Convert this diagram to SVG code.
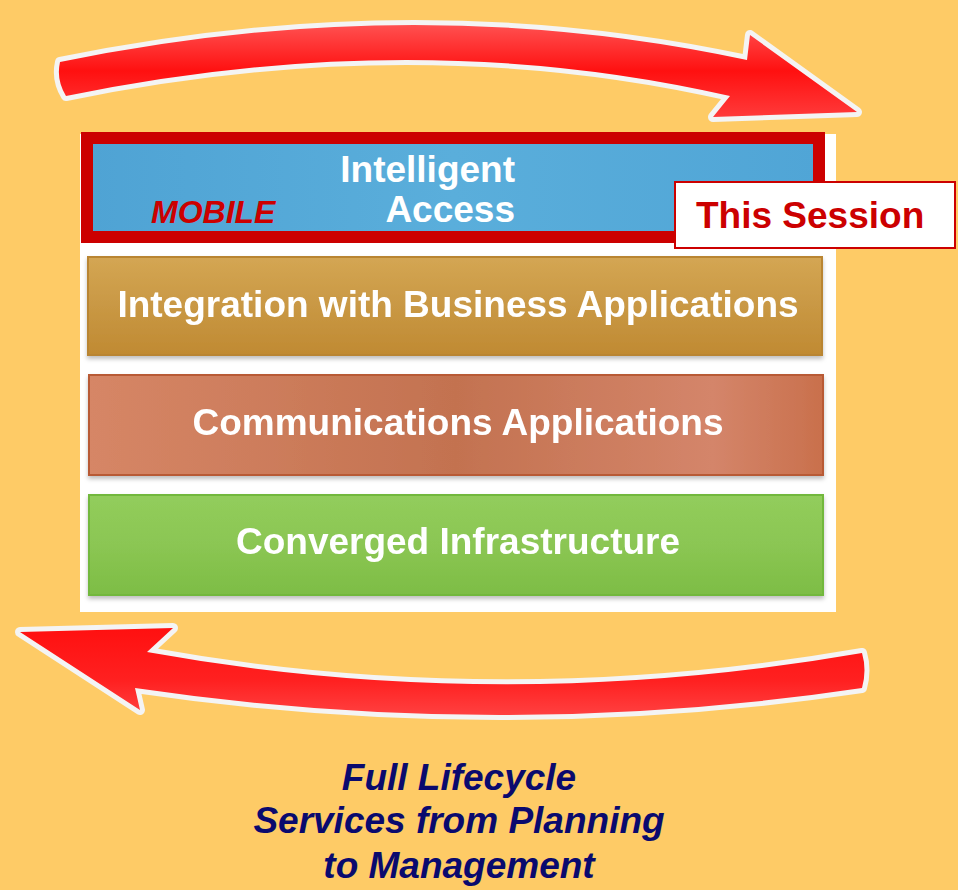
<svg xmlns="http://www.w3.org/2000/svg" width="958" height="890" viewBox="0 0 958 890">
<style>
.bar-text{font-family:"Liberation Sans",Arial,sans-serif;font-weight:bold;font-size:37px;fill:#ffffff;text-anchor:middle}
.foot{font-family:"Liberation Sans",Arial,sans-serif;font-weight:bold;font-style:italic;font-size:37px;fill:#0a0a6e;text-anchor:middle}
.halo{fill:none;stroke:#f4f4f4;stroke-linejoin:round}
</style>
<defs>
<linearGradient id="gBlue" x1="0" y1="0" x2="1" y2="0"><stop offset="0" stop-color="#4fa3d4"/><stop offset="0.5" stop-color="#5aaedb"/><stop offset="1" stop-color="#50a5d6"/></linearGradient>
<linearGradient id="gGold" x1="0" y1="0" x2="0" y2="1"><stop offset="0" stop-color="#d4a653"/><stop offset="0.5" stop-color="#c99844"/><stop offset="1" stop-color="#c08a32"/></linearGradient>
<linearGradient id="gTerra" x1="0" y1="0" x2="1" y2="0"><stop offset="0" stop-color="#d68666"/><stop offset="0.5" stop-color="#c37250"/><stop offset="0.85" stop-color="#d4856a"/><stop offset="1" stop-color="#c9704c"/></linearGradient>
<linearGradient id="gGreen" x1="0" y1="0" x2="0" y2="1"><stop offset="0" stop-color="#92cd5c"/><stop offset="0.5" stop-color="#8bc653"/><stop offset="1" stop-color="#7dbd45"/></linearGradient>
<linearGradient id="gArrowTop" x1="0" y1="0" x2="0" y2="1"><stop offset="0" stop-color="#ff5050"/><stop offset="0.5" stop-color="#ff1010"/><stop offset="1" stop-color="#ff3a3a"/></linearGradient>
<linearGradient id="gArrowBot" x1="0" y1="0" x2="0" y2="1"><stop offset="0" stop-color="#ff1010"/><stop offset="0.6" stop-color="#ff2020"/><stop offset="1" stop-color="#ff4040"/></linearGradient>
<filter id="shadow" x="-5%" y="-20%" width="110%" height="150%"><feDropShadow dx="0" dy="3" stdDeviation="2" flood-color="#000" flood-opacity="0.25"/></filter>
</defs>
<rect x="0" y="0" width="958" height="890" fill="#fecb66"/>

<g id="connectors">
  <g id="arrow-top">
    <path class="halo" stroke-width="10" d="M 60,62 Q 415,-11 747,60 L 750,35 L 857,112 L 713,117 L 730,96 Q 415,24 66,96 Q 56,80 60,62 Z"/>
    <path fill="url(#gArrowTop)" d="M 60,62 Q 415,-11 747,60 L 750,35 L 857,112 L 713,117 L 730,96 Q 415,24 66,96 Q 56,80 60,62 Z"/>
  </g>
  <g id="arrow-bottom">
    <path class="halo" stroke-width="10" d="M 862,653 Q 500,716 147,652 L 173,628 L 20,632 L 140,710 L 135,688 Q 500,742 862,688 Q 867,670 862,653 Z"/>
    <path fill="url(#gArrowBot)" d="M 862,653 Q 500,716 147,652 L 173,628 L 20,632 L 140,710 L 135,688 Q 500,742 862,688 Q 867,670 862,653 Z"/>
  </g>
</g>

<rect x="80" y="134" width="756" height="478" fill="#ffffff"/>

<g id="node-intelligent-access">
  <rect x="87" y="138" width="732" height="99" fill="url(#gBlue)" stroke="#cc0000" stroke-width="12"/>
  <text class="bar-text" x="515" y="182" style="text-anchor:end">Intelligent</text>
  <text class="bar-text" x="515" y="222" style="text-anchor:end">Access</text>
  <text x="151" y="223" font-family="Liberation Sans, Arial, sans-serif" font-weight="bold" font-style="italic" font-size="32" fill="#cc0000">MOBILE</text>
</g>

<g id="node-this-session">
  <rect x="675" y="182" width="280" height="66" fill="#ffffff" stroke="#cc0000" stroke-width="2"/>
  <text x="696" y="228" font-family="Liberation Sans, Arial, sans-serif" font-weight="bold" font-size="37" fill="#cc0000">This Session</text>
</g>

<g id="node-integration" filter="url(#shadow)">
  <rect x="88" y="257" width="734" height="98" fill="url(#gGold)" stroke="#b98530" stroke-width="2"/>
  <text class="bar-text" x="458" y="317">Integration with Business Applications</text>
</g>

<g id="node-communications" filter="url(#shadow)">
  <rect x="89" y="375" width="734" height="100" fill="url(#gTerra)" stroke="#b85a34" stroke-width="2"/>
  <text class="bar-text" x="458" y="435">Communications Applications</text>
</g>

<g id="node-converged" filter="url(#shadow)">
  <rect x="89" y="495" width="734" height="100" fill="url(#gGreen)" stroke="#72b83c" stroke-width="2"/>
  <text class="bar-text" x="458" y="554">Converged Infrastructure</text>
</g>

<g id="footer">
  <text class="foot" x="459" y="790">Full Lifecycle</text>
  <text class="foot" x="459" y="833">Services from Planning</text>
  <text class="foot" x="459" y="878">to Management</text>
</g>
</svg>
